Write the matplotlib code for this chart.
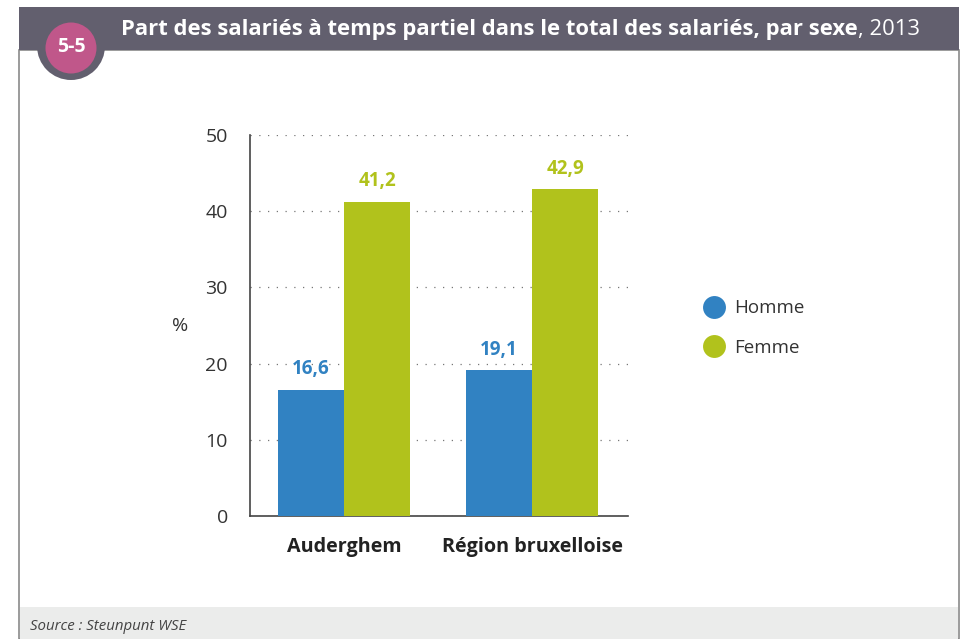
import matplotlib
matplotlib.use("Agg")
import matplotlib.pyplot as plt
from matplotlib.patches import Rectangle, Ellipse
from matplotlib.lines import Line2D
import numpy as np

categories = ["Auderghem", "Région bruxelloise"]
series_names = ["Homme", "Femme"]
homme = [16.6, 19.1]
femme = [41.2, 42.9]
yticks = [0, 10, 20, 30, 40, 50]

BLUE = "#3182c2"
GREEN = "#b1c21c"
HEADER = "#625f6e"
PINK = "#c0578a"
TXT = "#333333"

W, H = 963, 639
fig = plt.figure(figsize=(W / 100, H / 100), dpi=100)
plt.rcParams['font.family'] = ['Open Sans', 'DejaVu Sans']

def fx(x):
    return x / W

def fy(y):
    return 1 - y / H

# frame
fig.add_artist(Rectangle((fx(19), fy(639)), fx(959) - fx(19), fy(50) - fy(639),
                         transform=fig.transFigure, facecolor="white",
                         edgecolor="#8a8a8a", lw=1.2, zorder=0))
# footer band
fig.add_artist(Rectangle((fx(20), fy(639)), fx(958) - fx(20), fy(607) - fy(639),
                         transform=fig.transFigure, facecolor="#ebeceb",
                         edgecolor="none", zorder=1))
# header bar
fig.add_artist(Rectangle((fx(19), fy(50)), fx(959) - fx(19), fy(7) - fy(50),
                         transform=fig.transFigure, facecolor=HEADER,
                         edgecolor="none", zorder=2))
# badge
fig.add_artist(Ellipse((fx(71), fy(46)), 2 * 34 / W, 2 * 34 / H,
                       transform=fig.transFigure, facecolor=HEADER,
                       edgecolor="none", zorder=3))
fig.add_artist(Ellipse((fx(71), fy(48)), 2 * 25.5 / W, 2 * 25.5 / H,
                       transform=fig.transFigure, facecolor=PINK,
                       edgecolor="none", zorder=4))
fig.text(fx(71), fy(47), "5-5", color="white", fontsize=14, fontweight="bold",
         ha="center", va="center", zorder=5)

# title
t1 = fig.text(fx(121), fy(29), "Part des salariés à temps partiel dans le total des salariés, par sexe",
              color="white", fontsize=15.8, fontweight="bold", ha="left", va="center", zorder=5)
fig.canvas.draw()
bb = t1.get_window_extent()
fig.text(bb.x1 / W, fy(29), ", 2013", color="white", fontsize=15.8,
         ha="left", va="center", zorder=5)

fig.text(fx(30), fy(627), "Source : Steunpunt WSE", color="#444444", fontsize=10.8,
         style="italic", ha="left", va="center", zorder=5)

# axes
ax = fig.add_axes([fx(250), fy(516), (628 - 250) / W, (516 - 135) / H], zorder=6)
ax.patch.set_alpha(0)
x = np.arange(len(categories))
bw = 0.351
ax.bar(x - bw / 2, homme, bw, color=BLUE, zorder=3, label=series_names[0])
ax.bar(x + bw / 2, femme, bw, color=GREEN, zorder=3, label=series_names[1])
for xi, v in zip(x, homme):
    ax.text(xi - bw / 2, v + 2.7, f"{v:.1f}".replace(".", ","), color=BLUE,
            fontsize=13.5, fontweight="bold", ha="center", va="center", zorder=4)
for xi, v in zip(x, femme):
    ax.text(xi + bw / 2, v + 2.7, f"{v:.1f}".replace(".", ","), color=GREEN,
            fontsize=13.5, fontweight="bold", ha="center", va="center", zorder=4)

ax.set_xlim(-0.5, 1.51)
ax.set_ylim(0, 50)
ax.set_yticks(yticks)
ax.set_yticklabels([str(t) for t in yticks], fontsize=14, color=TXT)
ax.set_xticks(x)
ax.set_xticklabels(categories, fontsize=14.2, fontweight="bold", color="#222222")
ax.tick_params(axis="y", length=0, pad=16)
ax.tick_params(axis="x", length=0, pad=15)
ax.yaxis.grid(True, linestyle=(0, (1, 6)), color="#777777", lw=0.9, zorder=0)
for s in ["top", "right"]:
    ax.spines[s].set_visible(False)
ax.spines["left"].set_color("#444444")
ax.spines["bottom"].set_color("#444444")
ax.spines["left"].set_linewidth(1.2)
ax.spines["bottom"].set_linewidth(1.2)
ax.set_ylabel("%", rotation=0, fontsize=14, color=TXT, va="center")
ax.yaxis.set_label_coords(-0.185, (516 - 326) / 381)

handles = [Line2D([0], [0], marker="o", linestyle="none", markersize=16.5,
                  markerfacecolor=c, markeredgecolor="none") for c in (BLUE, GREEN)]
fig.legend(handles, series_names, loc="center left", bbox_to_anchor=(fx(683), fy(328)),
           frameon=False, fontsize=13.5, labelcolor=TXT, handletextpad=0.35,
           labelspacing=1.15, handlelength=1.5)

fig.savefig("out.png", dpi=100)
